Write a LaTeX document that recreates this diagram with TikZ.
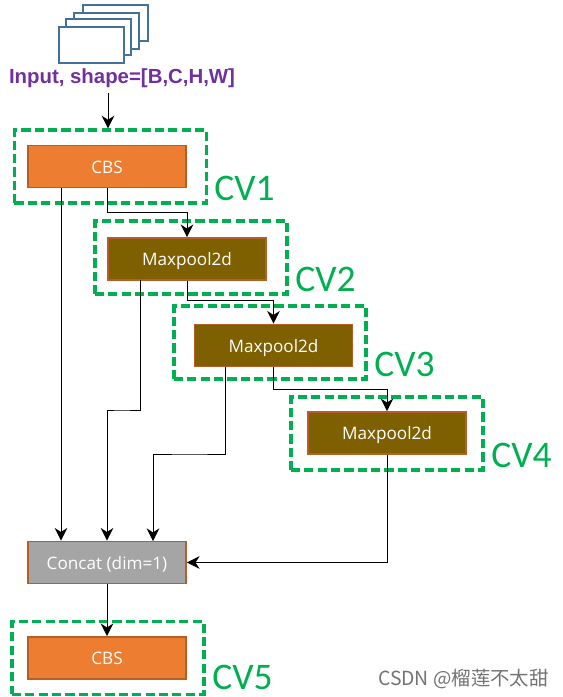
\documentclass[tikz,border=0pt]{standalone}
\usepackage{fontspec}
\setmainfont{Liberation Sans}
\newfontfamily\boxfont{Open Sans}
\newfontfamily\cvfont{Carlito}
\newfontfamily\cjkfont{Noto Sans CJK SC}
\usetikzlibrary{arrows.meta, positioning}
\definecolor{CvGreen}{HTML}{00B050}
\definecolor{CbsOrange}{HTML}{ED7D31}
\definecolor{PoolBrown}{HTML}{7F6000}
\definecolor{EdgeBrown}{HTML}{B55F28}
\definecolor{ConcatGray}{HTML}{A5A5A5}
\definecolor{SheetBlue}{HTML}{41719C}
\definecolor{InputPurple}{HTML}{7030A0}
\tikzset{
    block/.style={draw=EdgeBrown, line width=1.3pt, minimum width=3.95cm, minimum height=1.05cm,
        inner sep=0pt, text=white, text height=12pt, text depth=2.5pt, font=\boxfont\fontsize{12.2}{14}\selectfont},
    cbsblock/.style={block, fill=CbsOrange},
    poolblock/.style={block, fill=PoolBrown},
    concatblock/.style={block, fill=ConcatGray},
    cvbox/.style={draw=CvGreen, line width=2.5pt, dash pattern=on 6.5pt off 3pt, minimum width=4.8cm, minimum height=1.82cm, inner sep=0pt},
    cvlabel/.style={text=CvGreen, anchor=west, inner sep=0pt, font=\cvfont\fontsize{26.7}{30}\selectfont},
    sheet/.style={draw=SheetBlue, line width=1.3pt, fill=white, minimum width=1.62cm, minimum height=0.9cm, inner sep=0pt},
    link/.style={-{Stealth[length=9pt, width=9pt]}, line width=0.7pt, black},
}
\begin{document}
\begin{tikzpicture}[x=0.025cm, y=-0.025cm]
    \useasboundingbox (0,0) rectangle (562,697);

    % Input sheets
    \node [sheet] (sheetd) at (115.5,23) {};
    \node [sheet] (sheetc) at (106.5,31) {};
    \node [sheet] (sheetb) at (98.5,37) {};
    \node [sheet] (sheeta) at (91.5,45) {};
    \node [text=InputPurple, inner sep=0pt, font=\bfseries\fontsize{14.5}{17}\selectfont] (input) at (122,78) {Input, shape=[B,C,H,W]};

    % Dashed groups
    \node [cvbox] (cva) at (110.5,166.5) {};
    \node [cvbox] (cvb) at (191,257.5) {};
    \node [cvbox] (cvc) at (270,342.5) {};
    \node [cvbox] (cvd) at (387,433.5) {};
    \node [cvbox] (cve) at (108,658) {};

    % Blocks
    \node [cbsblock] (cbsa) at (107,166.5) {CBS};
    \node [poolblock] (poola) at (187,259) {Maxpool2d};
    \node [poolblock] (poolb) at (273.5,345.5) {Maxpool2d};
    \node [poolblock] (poolc) at (387,433) {Maxpool2d};
    \node [concatblock] (concat) at (107,562.5) {Concat (dim=1)};
    \node [cbsblock] (cbsb) at (107,658) {CBS};

    % Labels
    \node [cvlabel] (cvlabela) at (214,188) {CV1};
    \node [cvlabel] (cvlabelb) at (295,279) {CV2};
    \node [cvlabel] (cvlabelc) at (374,364) {CV3};
    \node [cvlabel] (cvlabeld) at (491,455) {CV4};
    \node [cvlabel] (cvlabele) at (212,677) {CV5};
    \node [anchor=east, inner sep=0pt, text=black!55, font=\cjkfont\fontsize{13.8}{16}\selectfont] (mark) at (549,679) {CSDN @榴莲不太甜};

    % Taps on the lower edges
    \coordinate (tapa) at (61,188);
    \coordinate (tapb) at (140,280);
    \coordinate (tapc) at (225,367);
    \coordinate (inputtop) at (108,93);

    % Straight connectors
    \draw [link] (inputtop) -- (inputtop |- cva.north);
    \draw [link] (tapa) -- (tapa |- concat.north);
    \draw [link] (concat.south) -- (cbsb.north);

    % Stepped connectors
    \draw [link] (cbsa.south) -- ++(0,24) -| (poola.north);
    \draw [link] (poola.south) -- ++(0,20) -| (poolb.north);
    \draw [link] (poolb.south) -- ++(0,22) -| (poolc.north);
    \draw [link] (tapb) |- (120,410) -| (concat.north);
    \draw [link] (tapc) |- (190,454) -| (153,541);
    \draw [link] (poolc.south) |- (concat.east);
\end{tikzpicture}
\end{document}
